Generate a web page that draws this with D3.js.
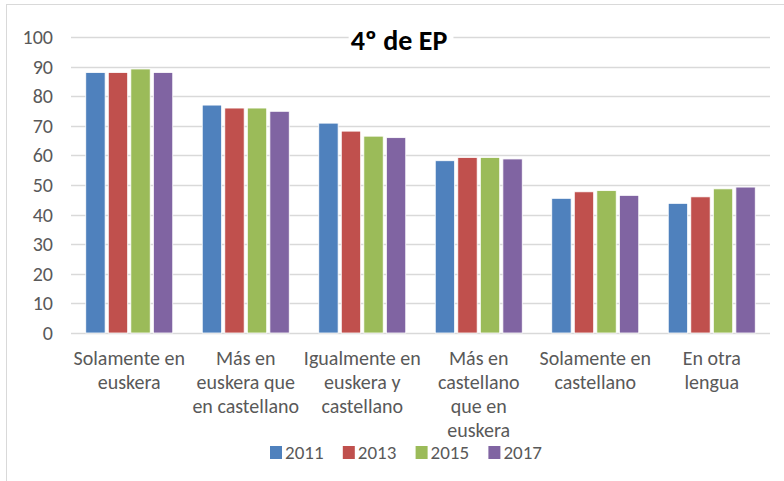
<!DOCTYPE html>
<html>
<head>
<meta charset="utf-8">
<script src="https://cdn.jsdelivr.net/npm/d3@7"></script>
<style>
  body { margin: 0; background: #fff; }
  text { font-family: Carlito, Lato, "Open Sans", sans-serif; fill: #595959; }
</style>
</head>
<body>
<div id="chart"></div>
<script>
// Data
var categories = [
    ['Solamente en', 'euskera'],
    ['Más en', 'euskera que', 'en castellano'],
    ['Igualmente en', 'euskera y', 'castellano'],
    ['Más en', 'castellano', 'que en', 'euskera'],
    ['Solamente en', 'castellano'],
    ['En otra', 'lengua']
];
var years    = [ '2011', '2013', '2015', '2017' ];
var v2011    = [ 88, 77, 70.9, 58.2, 45.5, 43.8 ];
var v2013    = [ 88, 76, 68.2, 59.3, 47.7, 46.0 ];
var v2015    = [ 89.2, 76, 66.5, 59.3, 48.1, 48.7 ];
var v2017    = [ 88, 74.9, 66, 58.8, 46.5, 49.3 ];
var yTicks   = [ 0, 10, 20, 30, 40, 50, 60, 70, 80, 90, 100 ];
var colors   = [ '#4f81bd', '#c0504d', '#9bbb59', '#8064a2' ];
var series   = [ v2011, v2013, v2015, v2017 ];

var chart_width  = 784;
var chart_height = 481;

var svg = d3.select('#chart')
    .append('svg')
    .attr('width', chart_width)
    .attr('height', chart_height);

// frame
svg.append('rect')
    .attr('x', 6.5).attr('y', 4.5)
    .attr('width', 900).attr('height', 600)
    .attr('fill', 'none')
    .attr('stroke', '#d9d9d9');

// scales
var x = d3.scaleBand()
    .domain(d3.range(categories.length))
    .range([71, 770]);

var x1 = d3.scaleBand()
    .domain(d3.range(years.length))
    .range([0, 87])
    .paddingInner(0.14);

var y = d3.scaleLinear()
    .domain([0, 100])
    .range([333, 37]);

// gridlines
svg.append('g')
    .selectAll('line')
    .data(yTicks)
    .enter()
    .append('line')
    .attr('x1', 71).attr('x2', 770)
    .attr('y1', function(d){ return Math.round(y(d)) + 0.5; })
    .attr('y2', function(d){ return Math.round(y(d)) + 0.5; })
    .attr('stroke', '#d9d9d9')
    .attr('stroke-width', 1.3);

// y axis labels
var yAxis = d3.axisLeft(y).tickValues(yTicks).tickSize(0).tickPadding(0);
var yg = svg.append('g')
    .attr('transform', 'translate(53,0)')
    .call(yAxis);
yg.select('.domain').remove();
yg.attr('font-family', null).attr('font-size', null);
yg.selectAll('text')
    .style('font-size', '20px')
    .style('fill', '#595959');

// title (white box hides the 100 gridline behind it)
var titleBg = svg.append('rect').attr('fill', '#fff');
var title = svg.append('text')
    .attr('x', 399)
    .attr('y', 50)
    .attr('text-anchor', 'middle')
    .style('font-size', '28px')
    .style('font-weight', 'bold')
    .style('fill', '#000')
    .text('4º de EP');
var tb = title.node().getBBox();
titleBg
    .attr('x', tb.x - 2)
    .attr('y', tb.y)
    .attr('width', tb.width + 8)
    .attr('height', tb.height);

// bars
var groups = svg.selectAll('g.group')
    .data(categories)
    .enter()
    .append('g')
    .attr('class', 'group')
    .attr('transform', function(d, i){
        return 'translate(' + (x(i) + x.bandwidth() / 2 - 43.5) + ',0)';
    });

groups.selectAll('rect')
    .data(function(d, i){
        return series.map(function(s, j){ return { s: j, v: s[i] }; });
    })
    .enter()
    .append('rect')
    .attr('x', function(d){ return x1(d.s); })
    .attr('width', x1.bandwidth())
    .attr('y', function(d){ return y(d.v); })
    .attr('height', function(d){ return y(0) - y(d.v); })
    .attr('fill', function(d){ return colors[d.s]; })
    .attr('stroke', '#fff')
    .attr('stroke-width', 0.8);

// category labels
groups.append('text')
    .attr('text-anchor', 'middle')
    .style('font-size', '20px')
    .selectAll('tspan')
    .data(function(d){ return d; })
    .enter()
    .append('tspan')
    .attr('x', 43.5)
    .attr('y', function(d, i){ return 364.5 + i * 24.2; })
    .text(function(d){ return d; });

// legend
var legend = svg.selectAll('g.legend')
    .data(years)
    .enter()
    .append('g')
    .attr('class', 'legend')
    .attr('transform', function(d, i){ return 'translate(' + (270 + i * 72.8) + ',446)'; });

legend.append('rect')
    .attr('width', 12)
    .attr('height', 13)
    .attr('fill', function(d, i){ return colors[i]; });

legend.append('text')
    .attr('x', 15)
    .attr('y', 12.5)
    .style('font-size', '19px')
    .text(function(d){ return d; });
</script>
</body>
</html>
